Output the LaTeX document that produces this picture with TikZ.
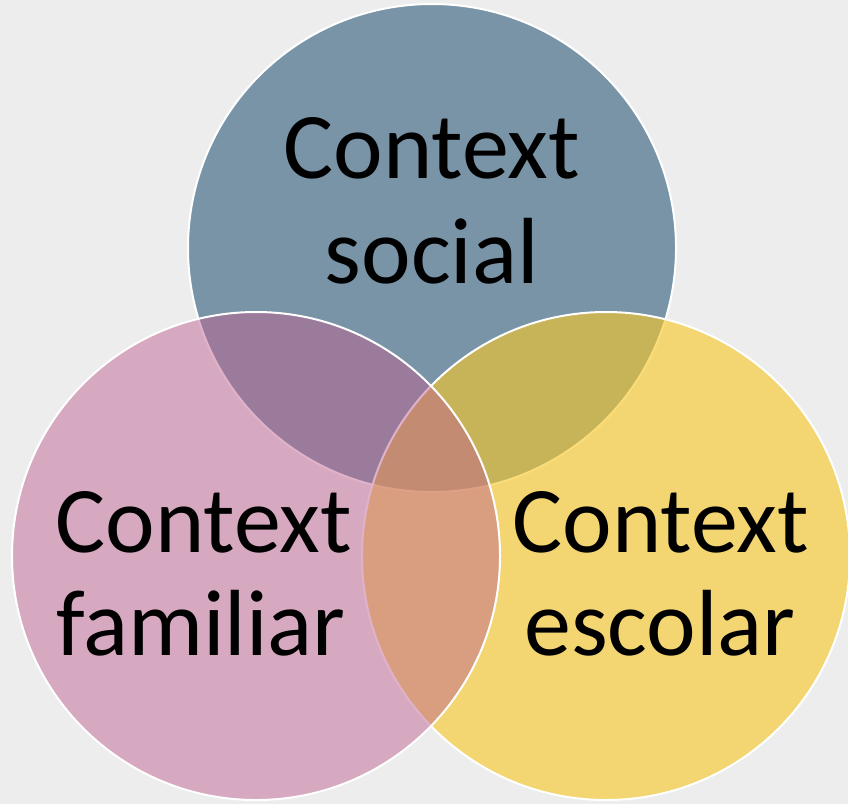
\documentclass[tikz,border=0pt]{standalone}
\usepackage{fontspec}
\setmainfont{Carlito}
\definecolor{bgC}{RGB}{237,237,237}
\definecolor{blueC}{RGB}{46,89,121}
\definecolor{yellowC}{RGB}{248,200,40}
\definecolor{pinkC}{RGB}{190,96,144}
\tikzset{
  venn/.style={draw=white, line width=2pt},
  lbl/.style={anchor=base, inner sep=0pt, font=\fontsize{94}{104}\selectfont, text=black}
}
\begin{document}
\begin{tikzpicture}[x=1pt,y=-1pt]
\useasboundingbox (0,0) rectangle (848,804);
\fill[bgC] (0,0) rectangle (848,804);
\coordinate (cs) at (432,248);
\coordinate (cf) at (256,556);
\coordinate (ce) at (606,556);
\path[venn, fill=blueC, fill opacity=0.6] (cs) circle[radius=244];
\path[venn, fill=yellowC, fill opacity=0.62] (ce) circle[radius=244];
\path[venn, fill=pinkC, fill opacity=0.48] (cf) circle[radius=244];
\node[lbl] (s1) at (432,178) {Context};
\node[lbl] (s2) at (432,283) {social};
\node[lbl] (f1) at (204,552) {Context};
\node[lbl] (f2) at (201,655) {familiar};
\node[lbl] (e1) at (661,552) {Context};
\node[lbl] (e2) at (660,655) {escolar};
\end{tikzpicture}
\end{document}
